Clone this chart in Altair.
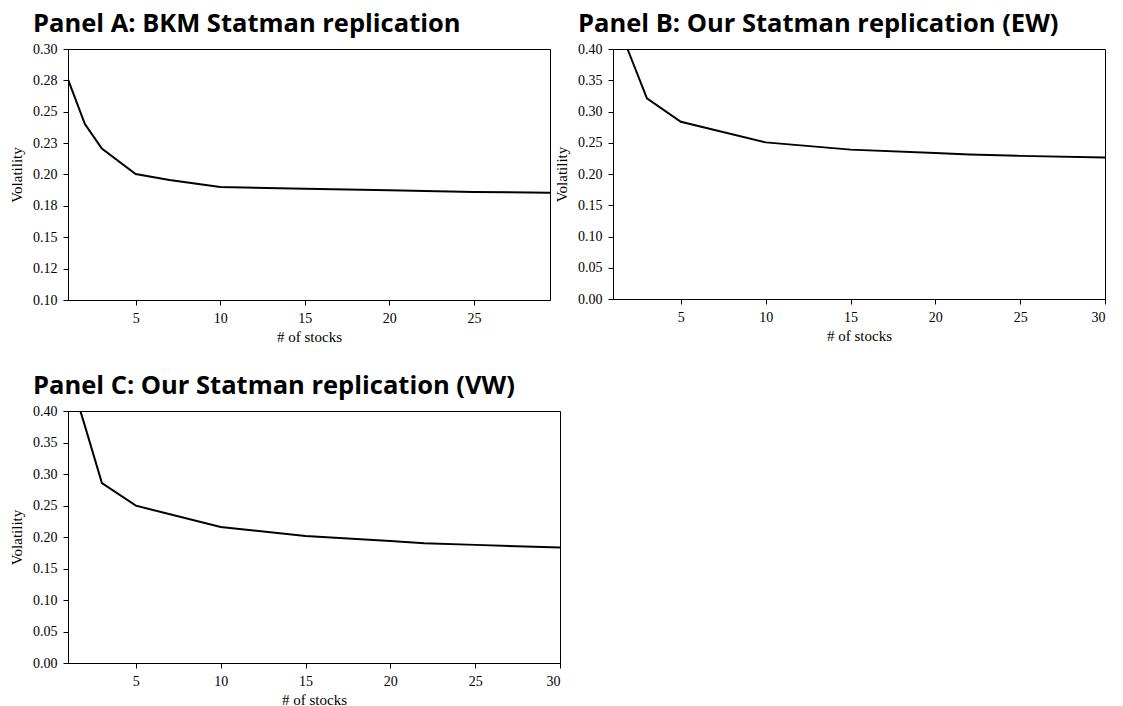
import altair as alt
import pandas as pd

# ---- data ----
a_x = [1, 2, 3, 5, 7, 10, 15, 20, 25, 29.5]
a_y = [0.2758, 0.2402, 0.2206, 0.2004, 0.1956, 0.1901, 0.1887, 0.1874, 0.1861, 0.1855]

b_x = [1, 2, 3, 5, 10, 15, 20, 22, 25, 30]
b_y = [0.46, 0.39, 0.321, 0.2835, 0.2506, 0.239, 0.2335, 0.2312, 0.229, 0.2262]

c_x = [1, 2, 3, 5, 10, 15, 20, 22, 25, 30]
c_y = [0.465, 0.376, 0.2855, 0.2497, 0.216, 0.2015, 0.1935, 0.1902, 0.1875, 0.1832]

titles = [
    "Panel A: BKM Statman replication",
    "Panel B: Our Statman replication (EW)",
    "Panel C: Our Statman replication (VW)",
]

a_yticks = [0.10, 0.125, 0.15, 0.175, 0.20, 0.225, 0.25, 0.275, 0.30]
a_ylabels = ["0.10", "0.12", "0.15", "0.18", "0.20", "0.23", "0.25", "0.28", "0.30"]
bc_yticks = [0.00, 0.05, 0.10, 0.15, 0.20, 0.25, 0.30, 0.35, 0.40]
bc_ylabels = ["0.00", "0.05", "0.10", "0.15", "0.20", "0.25", "0.30", "0.35", "0.40"]

a_xticks = [5, 10, 15, 20, 25]
bc_xticks = [5, 10, 15, 20, 25, 30]


def panel(xs, ys, title, xdom, xticks, ydom, yticks, ylabels, w, h):
    df = pd.DataFrame({"n": xs, "vol": ys})
    step = yticks[1] - yticks[0]
    arr = "[" + ",".join("'%s'" % l for l in ylabels) + "]"
    expr = "%s[round((datum.value - %r) / %r)]" % (arr, yticks[0], step)
    return (
        alt.Chart(df, title=alt.TitleParams(title))
        .mark_line(color="black", strokeWidth=2, clip=True)
        .encode(
            x=alt.X("n:Q", scale=alt.Scale(domain=xdom, nice=False, zero=False),
                    axis=alt.Axis(title="# of stocks", values=xticks, format="d")),
            y=alt.Y("vol:Q", scale=alt.Scale(domain=ydom, nice=False, zero=False),
                    axis=alt.Axis(title="Volatility", values=yticks, labelExpr=expr)),
        )
        .properties(width=w, height=h)
    )


A = panel(a_x, a_y, titles[0], [1, 29.5], a_xticks, [0.10, 0.30], a_yticks, a_ylabels, 482, 251)
B = panel(b_x, b_y, titles[1], [1, 30], bc_xticks, [0.0, 0.40], bc_yticks, bc_ylabels, 492, 250)
C = panel(c_x, c_y, titles[2], [1, 30], bc_xticks, [0.0, 0.40], bc_yticks, bc_ylabels, 492, 252)

chart = (
    alt.vconcat(alt.hconcat(A, B, spacing=3), C, spacing=28)
    .properties(padding={"left": 9, "top": 11, "right": 5, "bottom": 0})
    .configure_view(stroke="black", strokeWidth=1)
    .configure_axis(
        grid=False,
        domainColor="black", domainWidth=1,
        tickColor="black", tickWidth=1, tickSize=5,
        labelColor="black", labelFont="Liberation Serif", labelFontSize=14,
        titleColor="black", titleFont="Liberation Serif", titleFontSize=15,
        titleFontWeight="normal",
    )
    .configure_axisY(labelPadding=6, titlePadding=8)
    .configure_axisX(labelPadding=6, titlePadding=4)
    .configure_title(
        font="Open Sans", fontSize=25.5, fontWeight="bold", color="black",
        anchor="start", frame="group", dx=-35, offset=5,
    )
)

chart.save("out.html", embed_options={"renderer": "svg", "actions": False})
